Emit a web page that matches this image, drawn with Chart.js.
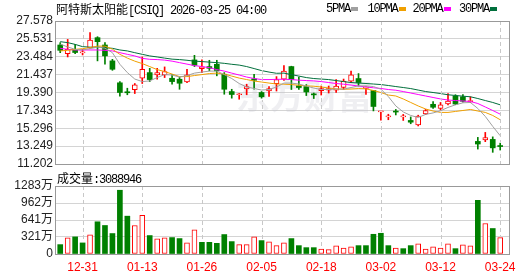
<!DOCTYPE html>
<html>
<head>
<meta charset="utf-8">
<script src="https://cdn.jsdelivr.net/npm/chart.js@4.4.1/dist/chart.umd.min.js"></script>
<style>
  html, body { margin: 0; padding: 0; background: #fff; }
  #wrap { position: relative; width: 530px; height: 276px; overflow: hidden; }
  canvas { position: absolute; left: 0; top: 0; }
  .t { position: absolute; font-size: 12px; line-height: 12px; white-space: nowrap; color: #000; }
  .m { font-family: "Liberation Mono", monospace; letter-spacing: -1.2px; }
  .cjk { font-family: "Noto Sans CJK SC", sans-serif; }
  .sw { position: absolute; width: 7px; height: 4px; }
</style>
</head>
<body>
<div id="wrap">
  <canvas id="priceChart" width="530" height="276"></canvas>
  <canvas id="volChart" width="530" height="276"></canvas>
  <div class="t" style="left:56px;top:3px"><span class="cjk">阿特斯太阳能</span><span class="m">[CSIQ] 2026-03-25 04:00</span></div>
  <div class="t" style="left:57px;top:172px"><span class="cjk">成交量</span><span class="m">:3088946</span></div>
</div>
<script>
// trading days shown
const dates = ['12-26','12-29','12-30','12-31','01-02','01-05','01-06','01-07','01-08','01-09',
  '01-12','01-13','01-14','01-15','01-16','01-20','01-21','01-22','01-23','01-26',
  '01-27','01-28','01-29','01-30','02-02','02-03','02-04','02-05','02-06','02-09',
  '02-10','02-11','02-12','02-13','02-17','02-18','02-19','02-20','02-23','02-24',
  '02-25','02-26','02-27','03-02','03-03','03-04','03-05','03-06','03-09','03-10',
  '03-11','03-12','03-13','03-16','03-17','03-18','03-19','03-20','03-23','03-24'];
const xTickLabels = ['12-31','01-13','01-26','02-05','02-18','03-02','03-12','03-24'];

const open  = [24.83,23.84,24.33,23.92,24.53,25.67,24.83,23.01,20.50,19.46,
  19.70,21.02,21.67,21.41,21.41,21.02,20.91,20.61,23.12,22.13,
  22.36,22.62,21.48,19.50,19.13,19.81,20.95,19.39,19.58,20.40,
  20.93,22.36,20.15,20.07,19.18,19.59,19.67,19.65,19.96,20.70,
  20.99,19.87,19.62,17.17,16.60,17.19,16.59,16.19,15.68,16.93,
  18.04,17.58,18.07,18.99,18.90,18.33,13.79,13.97,14.02,13.25];
const high  = [25.10,25.47,24.90,24.33,26.24,25.78,25.10,23.19,20.64,19.88,
  20.42,23.46,22.16,22.16,22.32,21.48,21.18,22.05,23.65,23.12,
  23.08,23.08,21.67,19.76,19.27,20.34,21.48,19.50,20.07,21.21,
  22.47,22.40,21.16,20.30,19.33,20.13,20.13,20.87,20.93,21.84,
  21.56,20.04,19.62,17.20,16.90,17.45,16.88,16.59,16.79,17.47,
  18.36,18.25,19.27,19.14,19.14,18.90,14.25,14.82,14.31,13.59];
const low   = [23.95,23.46,23.84,23.69,24.45,23.01,22.62,21.93,18.97,19.13,
  19.27,20.42,20.64,20.91,21.10,20.34,19.76,20.53,22.36,21.67,
  21.87,21.30,19.19,18.74,18.62,19.13,19.76,18.74,18.93,19.56,
  20.76,19.73,19.73,19.04,18.70,19.10,19.33,19.39,19.73,20.53,
  20.13,19.16,17.28,16.23,16.27,16.82,16.19,15.81,15.56,16.85,
  17.58,17.39,17.96,17.99,18.27,18.22,12.91,13.76,12.54,12.80];
const close = [24.22,24.33,23.97,23.95,25.40,25.21,23.58,22.05,19.39,19.36,
  20.27,22.05,20.87,21.67,21.79,20.64,20.45,21.41,22.51,22.32,
  22.16,21.87,19.76,19.16,19.19,20.07,20.79,18.90,19.84,20.87,
  21.84,20.87,19.96,19.45,19.12,19.84,19.85,20.13,20.70,21.42,
  20.53,20.04,17.79,17.20,16.64,17.15,16.63,15.99,16.70,17.33,
  17.70,17.99,18.42,18.07,18.38,18.47,13.49,14.22,13.05,13.20];

const ma5  = [24.93,24.61,24.33,24.26,24.41,24.58,24.47,23.95,22.62,21.67,
  20.93,20.64,20.72,21.10,21.44,21.39,21.16,21.33,21.61,21.73,
  21.84,21.84,21.44,20.99,20.42,20.02,19.85,19.67,19.73,20.02,
  20.47,20.47,20.36,20.13,19.90,19.73,19.73,19.79,19.77,19.96,
  20.15,20.15,20.07,19.77,18.93,17.85,17.16,16.76,16.53,16.88,
  17.05,17.30,17.68,17.98,18.21,18.25,17.56,16.65,15.51,14.44];
const ma10 = [24.15,24.22,24.33,24.41,24.53,24.70,24.70,24.35,23.76,23.33,
  22.98,22.70,22.36,22.01,21.79,21.50,21.21,21.21,21.33,21.44,
  21.56,21.61,21.50,21.27,21.04,20.87,20.70,20.59,20.47,20.36,
  20.34,20.30,20.22,20.15,20.11,20.02,19.90,19.81,19.76,19.79,
  19.84,19.81,19.62,19.39,19.10,18.99,18.65,18.25,17.85,17.50,
  17.27,17.11,17.11,17.22,17.33,17.45,17.27,17.11,16.76,16.27];
const ma20 = [24.45,24.33,24.26,24.26,24.26,24.26,24.22,24.15,23.95,23.76,
  23.58,23.30,23.19,23.16,23.10,22.98,22.81,22.64,22.47,22.36,
  22.24,22.01,21.84,21.61,21.39,21.16,20.99,20.87,20.87,20.90,
  20.91,20.87,20.80,20.76,20.72,20.64,20.53,20.42,20.34,20.24,
  20.13,20.02,19.93,19.85,19.73,19.65,19.50,19.33,19.16,18.99,
  18.82,18.65,18.53,18.47,18.42,18.36,18.13,17.73,17.33,16.91];
const ma30 = [25.21,25.10,24.90,24.64,24.58,24.58,24.52,24.45,24.26,24.15,
  23.95,23.76,23.58,23.46,23.33,23.21,23.16,23.08,22.98,22.93,
  22.87,22.81,22.73,22.62,22.53,22.36,22.13,21.90,21.73,21.59,
  21.61,21.44,21.27,21.10,20.99,20.93,20.87,20.76,20.64,20.53,
  20.47,20.42,20.36,20.30,20.19,20.07,19.96,19.84,19.67,19.50,
  19.39,19.27,19.13,19.05,18.97,18.90,18.70,18.47,18.25,17.98];

// volume in 万股
const volume = [177,304,323,209,361,608,538,386,1203,714,
  538,728,348,285,304,310,291,209,456,220,
  220,201,367,234,177,177,323,253,228,158,
  209,291,158,120,120,95,82,152,114,133,
  158,158,372,391,158,114,101,158,190,95,
  133,114,190,101,171,152,1013,576,481,308.9];

const priceTicks = [11.202,13.249,15.296,17.343,19.390,21.437,23.484,25.531,27.578];
const volTicks = [0,321,641,962,1283];

const maNames = ['5PMA','10PMA','20PMA','30PMA'];
const maColors = ['#a0a0a0','#f0a000','#ff00ff','#006f3c'];

const RED = '#ff0000', GREEN = '#008000';
const idx = dates.map((_, i) => i);
const candleUp = idx.map(i => close[i] >= open[i]);
const volUp = idx.map(i => i === 0 ? close[i] >= open[i] : close[i] >= close[i - 1]);

// legend in the header
const legendX = [326, 367.5, 412.5, 459];
const wrap = document.getElementById('wrap');
maNames.forEach((n, k) => {
  const d = document.createElement('div');
  d.className = 't m';
  d.style.left = legendX[k] + 'px';
  d.style.top = '3px';
  d.textContent = n;
  wrap.appendChild(d);
  const s = document.createElement('div');
  s.className = 'sw';
  s.style.left = (legendX[k] + n.length * 6 + 1) + 'px';
  s.style.top = '7px';
  s.style.background = maColors[k];
  wrap.appendChild(s);
});

// dashed vertical lines at the x scale's ticks; gaps where a bar sits on the line
const dateGrid = {
  id: 'dateGrid',
  afterDraw(chart) {
    const {ctx, chartArea: a, scales: {x}} = chart;
    ctx.save();
    ctx.strokeStyle = '#c8c8c8';
    ctx.lineWidth = 1;
    x.ticks.forEach(t => {
      const px = Math.round(x.getPixelForValue(t.value)) + 0.5;
      const skip = [];
      chart.getSortedVisibleDatasetMetas().forEach(meta => {
        if (meta.type !== 'bar') return;
        const el = meta.data[t.value];
        if (el) skip.push([Math.min(el.y, el.base) - 1, Math.max(el.y, el.base) + 1]);
      });
      const free = y => !skip.some(r => y >= r[0] && y <= r[1]);
      ctx.beginPath();
      for (let y = a.top + 1; y < a.bottom; y++) {
        if ((y - a.top) % 7 < 4 && free(y) && free(y + 1)) {
          ctx.moveTo(px, y);
          ctx.lineTo(px, y + 1);
        }
      }
      ctx.stroke();
    });
    ctx.restore();
  }
};

const framePlugin = {
  id: 'frame',
  afterDraw(chart) {
    const {ctx, chartArea: a} = chart;
    ctx.save();
    ctx.strokeStyle = '#999';
    ctx.lineWidth = 1;
    ctx.strokeRect(a.left + 0.5, a.top + 0.5, a.right - a.left, a.bottom - a.top);
    ctx.restore();
  }
};

const watermark = {
  id: 'watermark',
  beforeDatasetsDraw(chart) {
    const ctx = chart.ctx;
    ctx.save();
    ctx.fillStyle = 'rgba(190,190,205,0.25)';
    ctx.font = 'bold 34px "Noto Sans CJK SC"';
    ctx.textBaseline = 'middle';
    ctx.fillText('东方财富', 236, 96);
    ctx.restore();
  }
};

const yLabelFont = {family: '"Liberation Sans", "Noto Sans CJK SC", sans-serif', size: 12};

function xScale(showLabels, h) {
  return {
    type: 'linear', min: -0.7, max: 60.18, offset: false, bounds: 'data',
    afterBuildTicks: s => { s.ticks = xTickLabels.map(l => ({value: dates.indexOf(l)})); },
    afterFit: s => { s.height = h; },
    ticks: {
      display: showLabels, autoSkip: false, maxRotation: 0, padding: 6,
      color: RED, font: {family: '"Liberation Sans", sans-serif', size: 12},
      callback: v => dates[v]
    },
    grid: {display: false, drawTicks: false},
    border: {display: false}
  };
}

new Chart(document.getElementById('priceChart'), {
  data: {
    datasets: [
      ...maNames.map((n, k) => ({
        type: 'line', label: n, order: 0,
        data: [ma5, ma10, ma20, ma30][k].map((v, i) => ({x: i, y: v})),
        borderColor: maColors[k], borderWidth: 1, pointRadius: 0, tension: 0, fill: false
      })),
      {
        type: 'bar', label: 'body', order: 1, grouped: false, barThickness: 5, minBarLength: 1,
        data: idx.map(i => ({x: i, y: [Math.min(open[i], close[i]), Math.max(open[i], close[i])]})),
        backgroundColor: idx.map(i => candleUp[i] ? '#fff' : GREEN),
        borderColor: idx.map(i => candleUp[i] ? RED : GREEN),
        borderWidth: idx.map(i => candleUp[i] ? 1 : 0),
        borderSkipped: false
      },
      {
        type: 'bar', label: 'wick', order: 2, grouped: false, barThickness: 1,
        data: idx.map(i => ({x: i, y: [low[i], high[i]]})),
        backgroundColor: idx.map(i => candleUp[i] ? RED : GREEN)
      }
    ]
  },
  options: {
    responsive: false, animation: false, devicePixelRatio: 1,
    layout: {padding: {left: 0, right: 21, top: 21, bottom: 0}},
    plugins: {legend: {display: false}, tooltip: {enabled: false}},
    scales: {
      x: xScale(false, 112),
      y: {
        min: priceTicks[0], max: priceTicks[priceTicks.length - 1],
        afterBuildTicks: s => { s.ticks = priceTicks.map(v => ({value: v})); },
        afterFit: s => { s.width = 55; },
        ticks: {color: '#222', font: yLabelFont, padding: 2, autoSkip: false, callback: v => v.toFixed(3)},
        grid: {color: '#d4d4d4', drawTicks: false},
        border: {display: false}
      }
    }
  },
  plugins: [watermark, dateGrid, framePlugin]
});

new Chart(document.getElementById('volChart'), {
  type: 'bar',
  data: {
    datasets: [{
      label: '成交量', grouped: false, barThickness: 5,
      data: idx.map(i => ({x: i, y: volume[i]})),
      backgroundColor: idx.map(i => volUp[i] ? '#fff' : GREEN),
      borderColor: idx.map(i => volUp[i] ? RED : GREEN),
      borderWidth: idx.map(i => volUp[i] ? 1 : 0),
      borderSkipped: false
    }]
  },
  options: {
    responsive: false, animation: false, devicePixelRatio: 1,
    layout: {padding: {left: 0, right: 21, top: 186, bottom: 0}},
    plugins: {legend: {display: false}, tooltip: {enabled: false}},
    scales: {
      x: xScale(true, 22),
      y: {
        min: volTicks[0], max: volTicks[volTicks.length - 1],
        afterBuildTicks: s => { s.ticks = volTicks.map(v => ({value: v})); },
        afterFit: s => { s.width = 55; },
        ticks: {color: '#222', font: yLabelFont, padding: 2, autoSkip: false, callback: v => v === 0 ? '0' : v + '万'},
        grid: {color: '#d4d4d4', drawTicks: false},
        border: {display: false}
      }
    }
  },
  plugins: [dateGrid, framePlugin]
});
</script>
</body>
</html>
